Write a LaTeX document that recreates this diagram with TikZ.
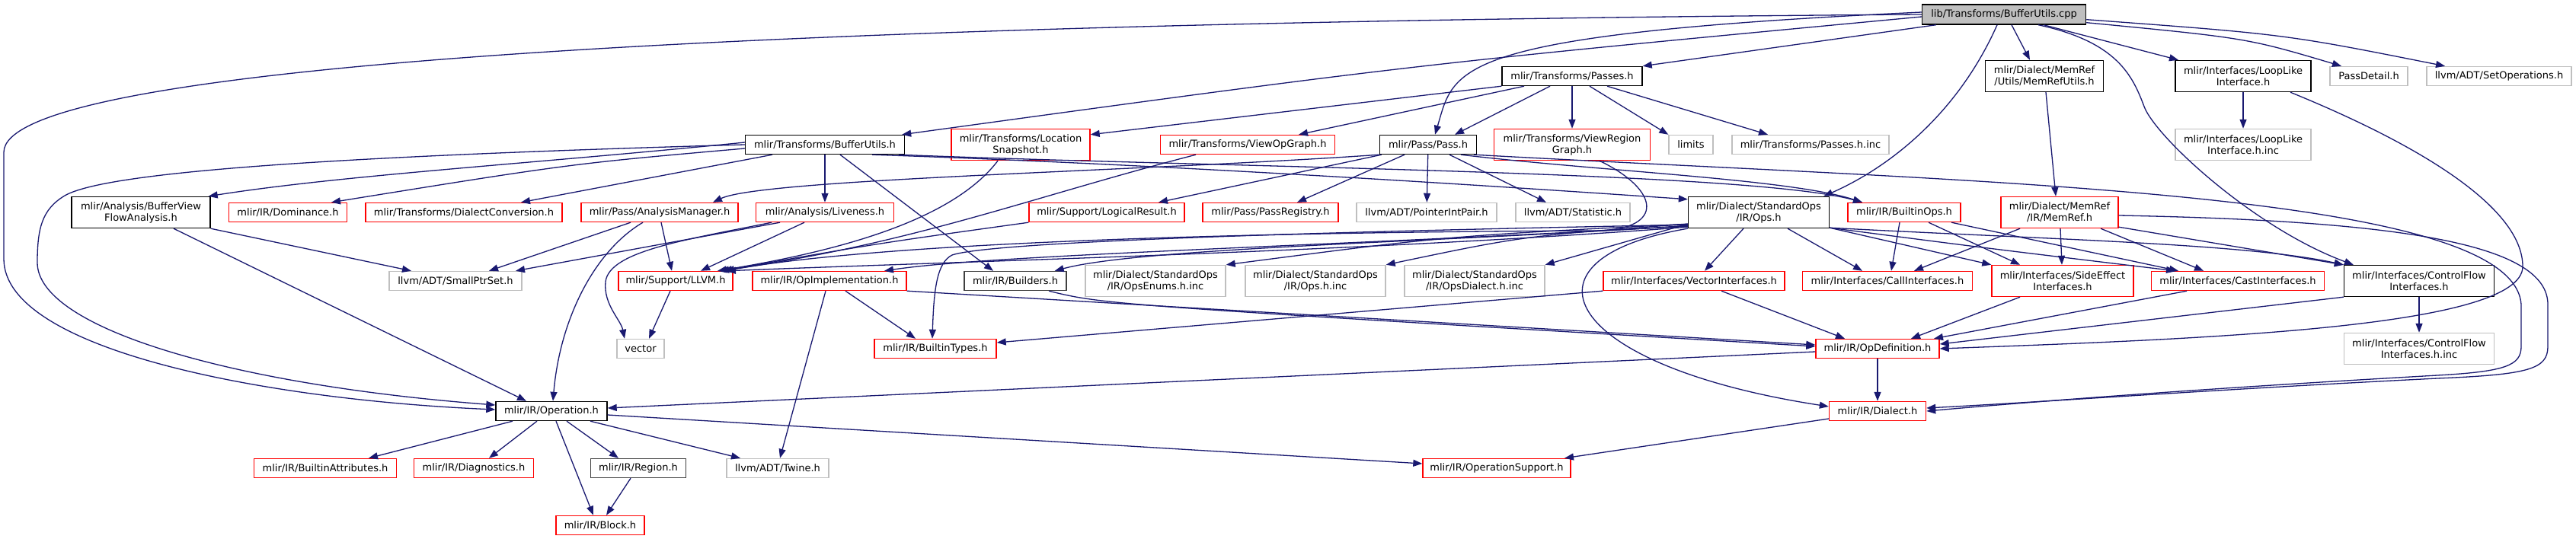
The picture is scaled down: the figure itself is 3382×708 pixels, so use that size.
\documentclass[tikz,border=0pt]{standalone}
\usepackage{fontspec}
\setmainfont{DejaVu Sans}
\usetikzlibrary{arrows.meta}
\definecolor{edgec}{HTML}{191970}
\definecolor{greyb}{HTML}{BFBFBF}
\definecolor{redc}{HTML}{FF0000}
\newcommand{\nodefnt}{\fontsize{13pt}{15pt}\selectfont}
\tikzset{
  blk/.style={draw=black, fill=white, line width=1.4pt, inner sep=0pt, minimum height=25pt, align=center, font=\nodefnt},
  redbox/.style={blk, draw=redc},
  grybox/.style={blk, draw=greyb},
  dkbox/.style={blk, draw=black!75},
  tall/.style={minimum height=41pt},
  edg/.style={draw=edgec, line width=1.3pt, -{Triangle[length=12pt,width=9pt]}},
}
\begin{document}
\begin{tikzpicture}[x=1pt,y=-1pt]
\fill[white] (0,0) rectangle (3382,708);
\useasboundingbox (0,0) rectangle (3382,708);
% ---------- nodes ----------
\node[blk, fill=greyb, minimum width=215pt, minimum height=26pt] (root) at (2631,19) {lib/Transforms/BufferUtils.cpp};
\node[blk, tall, minimum width=155pt] (memrefutils) at (2684,100) {mlir/Dialect/MemRef\\/Utils/MemRefUtils.h};
\node[blk, tall, minimum width=178pt] (looplike) at (2945,100) {mlir/Interfaces/LoopLike\\Interface.h};
\node[grybox, minimum width=102pt] (passdetail) at (3110,100) {PassDetail.h};
\node[grybox, minimum width=190pt] (setops) at (3281,100) {llvm/ADT/SetOperations.h};
\node[blk, minimum width=184pt] (passes) at (2064,100) {mlir/Transforms/Passes.h};

\node[blk, minimum width=209pt] (bufutilsh) at (1083,190) {mlir/Transforms/BufferUtils.h};
\node[redbox, tall, minimum width=182pt] (locsnap) at (1340,190) {mlir/Transforms/Location\\Snapshot.h};
\node[redbox, minimum width=229pt] (viewop) at (1638,190) {mlir/Transforms/ViewOpGraph.h};
\node[blk, minimum width=127pt] (pass) at (1875,190) {mlir/Pass/Pass.h};
\node[redbox, tall, minimum width=205pt] (viewregion) at (2064,190) {mlir/Transforms/ViewRegion\\Graph.h};
\node[grybox, minimum width=58pt] (limits) at (2220,190) {limits};
\node[grybox, minimum width=206pt] (passesinc) at (2377,190) {mlir/Transforms/Passes.h.inc};
\node[grybox, tall, minimum width=178pt] (looplikeinc) at (2945,190) {mlir/Interfaces/LoopLike\\Interface.h.inc};

\node[blk, tall, minimum width=182pt] (bvfa) at (185,279) {mlir/Analysis/BufferView\\FlowAnalysis.h};
\node[redbox, minimum width=155pt] (dominance) at (378,279) {mlir/IR/Dominance.h};
\node[redbox, minimum width=258pt] (dialconv) at (609,279) {mlir/Transforms/DialectConversion.h};
\node[redbox, minimum width=206pt] (anmgr) at (866,279) {mlir/Pass/AnalysisManager.h};
\node[redbox, minimum width=181pt] (liveness) at (1083,279) {mlir/Analysis/Liveness.h};
\node[redbox, minimum width=204pt] (logicalres) at (1453,279) {mlir/Support/LogicalResult.h};
\node[redbox, minimum width=178pt] (passreg) at (1668,279) {mlir/Pass/PassRegistry.h};
\node[grybox, minimum width=184pt] (pip) at (1873,279) {llvm/ADT/PointerIntPair.h};
\node[grybox, minimum width=150pt] (statistic) at (2065,279) {llvm/ADT/Statistic.h};
\node[blk, tall, minimum width=185pt] (ops) at (2309,279) {mlir/Dialect/StandardOps\\/IR/Ops.h};
\node[redbox, minimum width=148pt] (builtinops) at (2500,279) {mlir/IR/BuiltinOps.h};
\node[redbox, tall, minimum width=154pt] (memref) at (2704,279) {mlir/Dialect/MemRef\\/IR/MemRef.h};

\node[grybox, minimum width=174pt] (smallptr) at (598,369) {llvm/ADT/SmallPtrSet.h};
\node[redbox, minimum width=150pt] (llvmh) at (887,369) {mlir/Support/LLVM.h};
\node[redbox, minimum width=202pt] (opimpl) at (1089,369) {mlir/IR/OpImplementation.h};
\node[dkbox, minimum width=134pt] (builders) at (1333,369) {mlir/IR/Builders.h};
\node[grybox, tall, minimum width=184pt] (opsenums) at (1517,369) {mlir/Dialect/StandardOps\\/IR/OpsEnums.h.inc};
\node[grybox, tall, minimum width=184pt] (opsinc) at (1727,369) {mlir/Dialect/StandardOps\\/IR/Ops.h.inc};
\node[grybox, tall, minimum width=184pt] (opsdialect) at (1936,369) {mlir/Dialect/StandardOps\\/IR/OpsDialect.h.inc};
\node[redbox, minimum width=238pt] (vectorif) at (2224,369) {mlir/Interfaces/VectorInterfaces.h};
\node[redbox, minimum width=223pt] (callif) at (2478,369) {mlir/Interfaces/CallInterfaces.h};
\node[redbox, tall, minimum width=186pt] (sideeffect) at (2708,369) {mlir/Interfaces/SideEffect\\Interfaces.h};
\node[redbox, minimum width=227pt] (castif) at (2938,369) {mlir/Interfaces/CastInterfaces.h};
\node[blk, tall, minimum width=197pt] (controlflow) at (3176,369) {mlir/Interfaces/ControlFlow\\Interfaces.h};

\node[grybox, minimum width=62pt] (vector) at (841,458) {vector};
\node[redbox, minimum width=160pt] (builtintypes) at (1228,458) {mlir/IR/BuiltinTypes.h};
\node[redbox, minimum width=162pt] (opdef) at (2465,458) {mlir/IR/OpDefinition.h};
\node[grybox, tall, minimum width=197pt] (controlflowinc) at (3176,458) {mlir/Interfaces/ControlFlow\\Interfaces.h.inc};

\node[blk, minimum width=146pt] (operation) at (724,540) {mlir/IR/Operation.h};
\node[redbox, minimum width=127pt] (dialect) at (2465,540) {mlir/IR/Dialect.h};

\node[redbox, minimum width=187pt] (builtinattr) at (427,615) {mlir/IR/BuiltinAttributes.h};
\node[redbox, minimum width=157pt] (diagnostics) at (622,615) {mlir/IR/Diagnostics.h};
\node[dkbox, minimum width=125pt] (region) at (838,615) {mlir/IR/Region.h};
\node[grybox, minimum width=134pt] (twine) at (1021,615) {llvm/ADT/Twine.h};
\node[redbox, minimum width=194pt] (opsupport) at (1965,615) {mlir/IR/OperationSupport.h};

\node[redbox, minimum width=116pt] (block) at (788,690) {mlir/IR/Block.h};

% ---------- edges from root ----------
\draw[edg] (root.west) .. controls (900,30) and (5,90) .. (5,200) -- (5,340) .. controls (5,460) and (350,525) .. ([yshift=2pt]operation.west);
\draw[edg] ([yshift=-3pt]root.west) .. controls (1854,85) .. ([xshift=-4pt]bufutilsh.north east);
\draw[edg] ([xshift=19pt]root.south west) -- (passes.north east);
\draw[edg] ([yshift=3pt]root.west) .. controls (1900,45) and (1910,90) .. ([xshift=9pt]pass.north);
\draw[edg] ([xshift=-9pt]root.south) .. controls (2570,150) and (2480,220) .. ([xshift=-8pt]ops.north east);
\draw[edg] ([xshift=10pt]root.south) -- ([xshift=-19pt]memrefutils.north);
\draw[edg] ([xshift=45pt]root.south) .. controls (2780,55) and (2800,100) .. (2815,140) .. controls (2830,180) and (2960,300) .. ([xshift=13pt]controlflow.north west);
\draw[edg] ([xshift=52pt]root.south) -- ([xshift=-85pt]looplike.north);
\draw[edg] ([yshift=3pt]root.south east) .. controls (2950,50) .. ([xshift=-36pt]passdetail.north);
\draw[edg] ([yshift=7pt]root.south east) .. controls (3000,45) .. ([xshift=-71pt]setops.north);

% ---------- Passes.h ----------
\draw[edg] (passes.south west) -- ([yshift=-8pt]locsnap.north east);
\draw[edg] ([xshift=-63pt]passes.south) -- ([xshift=67pt]viewop.north);
\draw[edg] ([xshift=-29pt]passes.south) -- ([xshift=35pt]pass.north);
\draw[edg] (passes) -- (viewregion);
\draw[edg] ([xshift=23pt]passes.south) -- (limits.north west);
\draw[edg] ([xshift=46pt]passes.south) -- ([xshift=-56pt]passesinc.north);

% ---------- BufferUtils.h ----------
\draw[edg] ([yshift=3pt]bufutilsh.west) .. controls (700,215) and (450,230) .. ([xshift=-3pt]bvfa.north east);
\draw[edg] ([yshift=-5pt]bufutilsh.west) .. controls (750,215) .. ([xshift=57pt]dominance.north);
\draw[edg] ([xshift=-69pt]bufutilsh.south) -- ([xshift=75pt]dialconv.north);
\draw[edg] (bufutilsh) -- (liveness);
\draw[edg] (bufutilsh.west) .. controls (450,205) and (140,225) .. (85,257) .. controls (55,275) and (49,300) .. (49,345) .. controls (49,430) and (300,505) .. ([yshift=8pt]operation.west);
\draw[edg] ([xshift=20pt]bufutilsh.south) -- ([xshift=-29pt]builders.north);
\draw[edg] ([xshift=62pt]bufutilsh.south) .. controls (1500,215) and (1900,240) .. ([yshift=-4pt]ops.north west);
\draw[edg] ([xshift=97pt]bufutilsh.south) .. controls (1600,220) and (2300,225) .. ([xshift=-55pt]builtinops.north);

% ---------- Pass.h ----------
\draw[edg] (pass.south west) .. controls (1500,225) and (1000,235) .. ([xshift=70pt]anmgr.north);
\draw[edg] ([xshift=3pt]pass.south west) -- ([xshift=68pt]logicalres.north);
\draw[edg] ([xshift=-31pt]pass.south) -- ([xshift=35pt]passreg.north);
\draw[edg] (pass) -- (pip);
\draw[edg] ([xshift=28pt]pass.south) -- ([xshift=-35pt]statistic.north);
\draw[edg] ([xshift=43pt]pass.south) .. controls (2100,225) and (2350,235) .. ([xshift=-55pt]builtinops.north);
\draw[edg] ([xshift=60pt]pass.south) .. controls (2600,240) and (3300,250) .. (3310,400) -- (3310,455) .. controls (3310,480) and (3290,488) .. (3200,493) .. controls (2900,510) and (2700,525) .. (dialect.east);

% ---------- MemRef ----------
\draw[edg] ([xshift=2pt]memrefutils.south) -- ([xshift=-5pt]memref.north);
\draw[edg] ([xshift=-52pt]memref.south) -- ([xshift=35pt]callif.north);
\draw[edg] ([xshift=1pt]memref.south) -- ([xshift=-1pt]sideeffect.north);
\draw[edg] ([xshift=54pt]memref.south) -- ([xshift=-45pt]castif.north);
\draw[edg] ([yshift=2pt]memref.south east) -- (controlflow.north west);
\draw[edg] ([yshift=-4pt]memref.east) .. controls (3150,290) and (3345,320) .. (3345,400) -- (3345,455) .. controls (3345,485) and (3320,492) .. (3200,497) .. controls (2900,512) and (2700,527) .. ([yshift=4pt]dialect.east);

% ---------- BuiltinOps ----------
\draw[edg] ([xshift=-6pt]builtinops.south) -- ([xshift=5pt]callif.north);
\draw[edg] ([xshift=32pt]builtinops.south) -- ([xshift=-56pt]sideeffect.north);
\draw[edg] ([xshift=62pt]builtinops.south) -- ([xshift=-78pt]castif.north);

% ---------- Ops.h ----------
\draw[edg] ([xshift=-20pt]ops.south) -- ([xshift=14pt]vectorif.north);
\draw[edg] ([xshift=38pt]ops.south) -- ([xshift=-33pt]callif.north);
\draw[edg] ([yshift=1pt]ops.south east) -- (sideeffect.north west);
\draw[edg] ([yshift=1pt]ops.south east) .. controls (2600,325) .. ([xshift=-82pt]castif.north);
\draw[edg] ([yshift=1pt]ops.south east) .. controls (2700,315) and (2950,320) .. (controlflow.north west);
\draw[edg] (ops.south west) .. controls (1980,340) and (2050,480) .. ([yshift=6pt]dialect.west);
\draw[edg] ([yshift=6pt]ops.south west) .. controls (1900,310) .. (opsenums.north east);
\draw[edg] ([yshift=6pt]ops.south west) .. controls (2000,310) .. (opsinc.north east);
\draw[edg] ([yshift=6pt]ops.south west) -- (opsdialect.north east);
\draw[edg] ([yshift=4pt]ops.south west) .. controls (1900,318) and (1500,325) .. ([xshift=-16pt]builders.north east);
\draw[edg] ([yshift=3pt]ops.south west) .. controls (1700,325) and (1300,335) .. ([xshift=72pt]opimpl.north);
\draw[edg] ([yshift=5pt]ops.south west) .. controls (1700,305) and (1300,318) .. (1250,335) .. controls (1230,345) and (1226,380) .. ([xshift=-4pt]builtintypes.north);
\draw[edg] ([yshift=2pt]ops.south west) .. controls (1800,330) and (1300,342) .. ([xshift=67pt]llvmh.north);

% ---------- into LLVM.h ----------
\draw[edg] ([xshift=-30pt]locsnap.south) .. controls (1250,290) and (1100,330) .. ([xshift=55pt]llvmh.north);
\draw[edg] ([xshift=-68pt]viewop.south) .. controls (1350,260) and (1200,320) .. ([xshift=58pt]llvmh.north);
\draw[edg] (logicalres.south west) .. controls (1150,320) .. ([xshift=62pt]llvmh.north);
\draw[edg] ([xshift=36pt]viewregion.south) .. controls (2180,250) and (2185,300) .. (2100,303) .. controls (1600,305) and (1150,320) .. ([xshift=65pt]llvmh.north);
\draw[edg] ([xshift=2pt]anmgr.south) -- ([xshift=-5pt]llvmh.north);
\draw[edg] ([xshift=-27pt]liveness.south) -- ([xshift=33pt]llvmh.north);

% ---------- analysis row ----------
\draw[edg] ([xshift=-38pt]anmgr.south) -- ([xshift=44pt]smallptr.north);
\draw[edg] ([xshift=-59pt]liveness.south) -- ([xshift=79pt]smallptr.north);
\draw[edg] (bvfa.south east) -- ([xshift=-58pt]smallptr.north);
\draw[edg] ([xshift=43pt]bvfa.south) -- ([xshift=-33pt]operation.north);
\draw[edg] ([xshift=-22pt]anmgr.south) .. controls (780,330) and (735,420) .. ([xshift=2pt]operation.north);
\draw[edg] ([xshift=-70pt]liveness.south) .. controls (900,315) and (800,330) .. (795,370) .. controls (792,400) and (815,420) .. ([xshift=-21pt]vector.north);
\draw[edg] ([xshift=-7pt]llvmh.south) -- ([xshift=11pt]vector.north);

% ---------- OpImplementation / Builders ----------
\draw[edg] ([xshift=21pt]opimpl.south) -- ([xshift=-26pt]builtintypes.north);
\draw[edg] ([xshift=-5pt]opimpl.south) -- ([xshift=3pt]twine.north);
\draw[edg] (opimpl.south east) -- ([yshift=5pt]opdef.west);
\draw[edg] ([xshift=44pt]builders.south) .. controls (1450,400) .. ([yshift=3pt]opdef.west);

% ---------- interfaces ----------
\draw[edg] (vectorif.south west) -- ([yshift=8pt]builtintypes.east);
\draw[edg] ([xshift=36pt]vectorif.south) -- ([xshift=-43pt]opdef.north);
\draw[edg] ([xshift=-56pt]sideeffect.south) -- ([xshift=44pt]opdef.north);
\draw[edg] ([xshift=-67pt]castif.south) -- ([xshift=74pt]opdef.north);
\draw[edg] (controlflow.south west) -- ([yshift=6pt]opdef.east);
\draw[edg] (controlflow) -- (controlflowinc);
\draw[edg] (looplike) -- (looplikeinc);
\draw[edg] ([xshift=62pt]looplike.south) .. controls (3200,200) and (3312,280) .. (3312,350) .. controls (3312,430) and (2900,445) .. (opdef.east);

% ---------- OpDefinition / Dialect ----------
\draw[edg] (opdef) -- (dialect);
\draw[edg] ([yshift=-4pt]opdef.west) -- ([yshift=4pt]operation.east);
\draw[edg] ([yshift=-10pt]dialect.west) -- ([xshift=89pt]opsupport.north);

% ---------- Operation ----------
\draw[edg] ([yshift=-5pt]operation.east) -- ([yshift=6pt]opsupport.west);
\draw[edg] ([xshift=-51pt]operation.south) -- ([xshift=57pt]builtinattr.north);
\draw[edg] ([xshift=-19pt]operation.south) -- ([xshift=20pt]diagnostics.north);
\draw[edg] ([xshift=6pt]operation.south) -- ([xshift=-9pt]block.north);
\draw[edg] ([xshift=20pt]operation.south) -- ([xshift=-26pt]region.north);
\draw[edg] ([xshift=51pt]operation.south) -- ([xshift=-49pt]twine.north);
\draw[edg] ([xshift=-10pt]region.south) -- ([xshift=8pt]block.north);
\end{tikzpicture}
\end{document}
